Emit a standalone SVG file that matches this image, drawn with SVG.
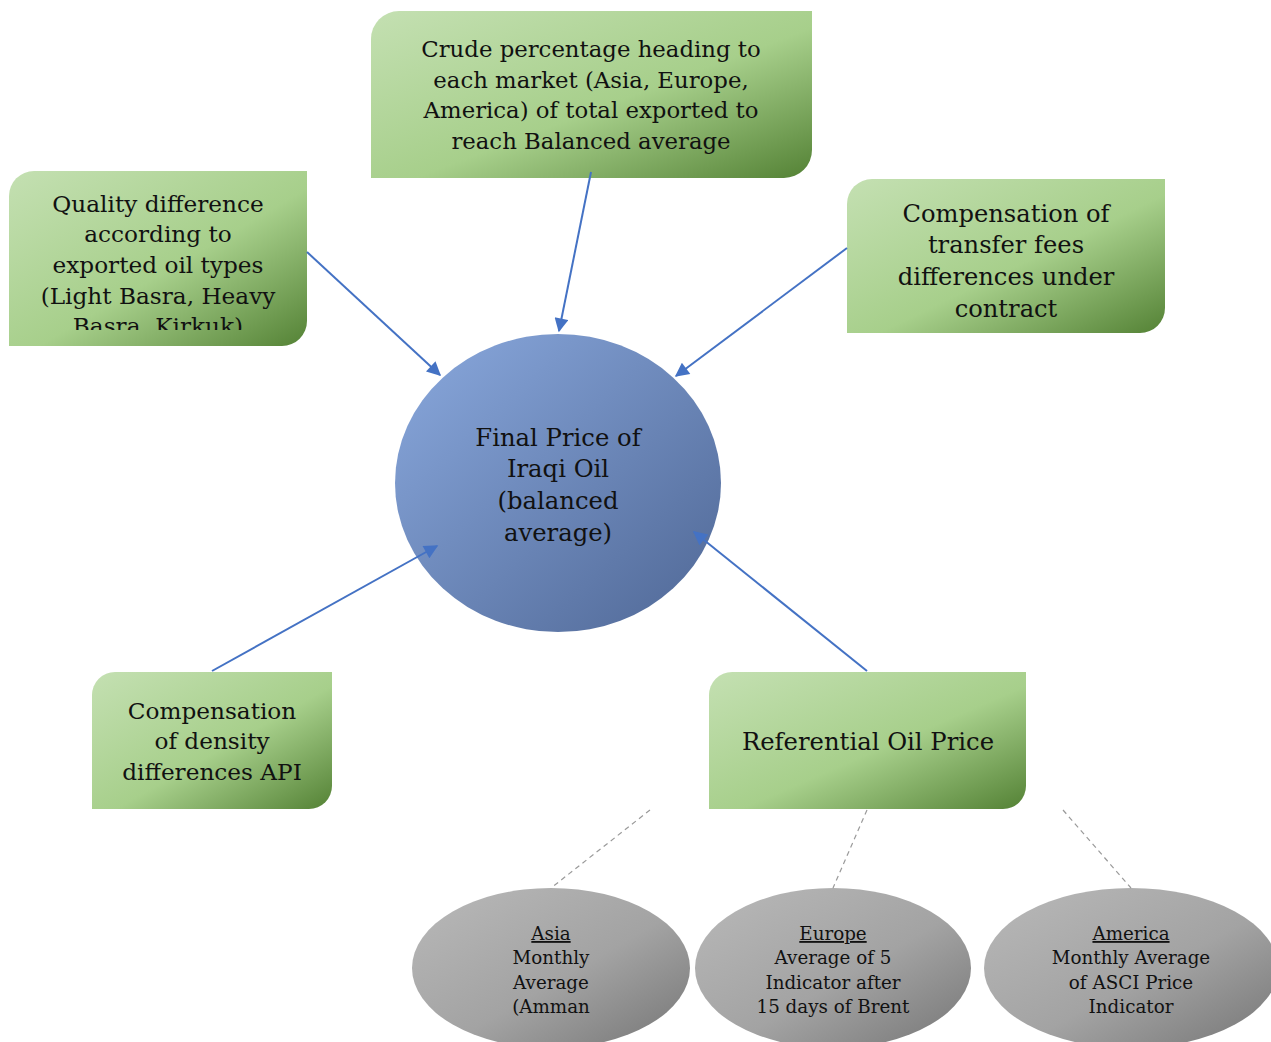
<svg xmlns="http://www.w3.org/2000/svg" width="1271" height="1042" viewBox="0 0 1271 1042">
<defs>
<linearGradient id="green" x1="0" y1="0" x2="1" y2="1">
<stop offset="0" stop-color="#c4e0b2"/>
<stop offset="0.55" stop-color="#a7cf8b"/>
<stop offset="1" stop-color="#548235"/>
</linearGradient>
<linearGradient id="blue" x1="0" y1="0" x2="1" y2="1">
<stop offset="0" stop-color="#8aa9de"/>
<stop offset="1" stop-color="#4f6795"/>
</linearGradient>
<linearGradient id="gray" x1="0" y1="0" x2="1" y2="1">
<stop offset="0" stop-color="#b9b9b9"/>
<stop offset="0.55" stop-color="#a3a3a3"/>
<stop offset="1" stop-color="#757575"/>
</linearGradient>
<marker id="arrow" viewBox="0 0 10 10" refX="9" refY="5" markerWidth="8" markerHeight="7" markerUnits="strokeWidth" orient="auto">
<path d="M0,0 L10,5 L0,10 z" fill="#4472c4"/>
</marker>
<clipPath id="clipLeft"><rect x="9" y="171" width="298" height="159"/></clipPath>
<style>
.box{fill:url(#green);}
.t{font-family:"DejaVu Serif","Liberation Serif",serif;font-size:23px;fill:#111;text-anchor:middle;}
.s{font-family:"DejaVu Serif","Liberation Serif",serif;font-size:18.3px;fill:#111;text-anchor:middle;}
.arr{stroke:#4472c4;stroke-width:2;fill:none;marker-end:url(#arrow);}
.dash{stroke:#9a9a9a;stroke-width:1.2;stroke-dasharray:5 4;fill:none;}
</style>
</defs>
<rect width="1271" height="1042" fill="#ffffff"/>

<g id="node-crude">
<path class="box" d="M399,11 H812 V150 A28,28 0 0 1 784,178 H371 V39 A28,28 0 0 1 399,11 Z"/>
<g class="t" style="font-size:22.8px">
<text class="t" x="591" y="57" style="font-size:22.8px">Crude percentage heading to</text>
<text class="t" x="591" y="88" style="font-size:22.8px">each market (Asia, Europe,</text>
<text class="t" x="591" y="118" style="font-size:22.8px">America) of total exported to</text>
<text class="t" x="591" y="149" style="font-size:22.8px">reach Balanced average</text>
</g>
</g>

<g id="node-quality">
<path class="box" d="M34,171 H307 V321 A25,25 0 0 1 282,346 H9 V196 A25,25 0 0 1 34,171 Z"/>
<g clip-path="url(#clipLeft)">
<text class="t" x="158" y="212" style="font-size:23.2px">Quality difference</text>
<text class="t" x="158" y="242" style="font-size:23.2px">according to</text>
<text class="t" x="158" y="273" style="font-size:23.2px">exported oil types</text>
<text class="t" x="158" y="304" style="font-size:23.2px">(Light Basra, Heavy</text>
<text class="t" x="158" y="334" style="font-size:23.2px">Basra, Kirkuk)</text>
</g>
</g>

<g id="node-transfer">
<path class="box" d="M872,179 H1165 V308 A25,25 0 0 1 1140,333 H847 V204 A25,25 0 0 1 872,179 Z"/>
<text class="t" x="1006" y="222" style="font-size:24.2px">Compensation of</text>
<text class="t" x="1006" y="253" style="font-size:24.2px">transfer fees</text>
<text class="t" x="1006" y="285" style="font-size:24.2px">differences under</text>
<text class="t" x="1006" y="317" style="font-size:24.2px">contract</text>
</g>

<g id="node-final">
<ellipse cx="558" cy="483" rx="163" ry="149" fill="url(#blue)"/>
<text class="t" x="558" y="446" style="font-size:24.3px">Final Price of</text>
<text class="t" x="558" y="477" style="font-size:24.3px">Iraqi Oil</text>
<text class="t" x="558" y="509" style="font-size:24.3px">(balanced</text>
<text class="t" x="558" y="541" style="font-size:24.3px">average)</text>
</g>

<g id="node-density">
<path class="box" d="M115,672 H332 V786 A23,23 0 0 1 309,809 H92 V695 A23,23 0 0 1 115,672 Z"/>
<text class="t" x="212" y="719" style="font-size:23.2px">Compensation</text>
<text class="t" x="212" y="749" style="font-size:23.2px">of density</text>
<text class="t" x="212" y="780" style="font-size:23.2px">differences API</text>
</g>

<g id="node-referential">
<path class="box" d="M732,672 H1026 V786 A23,23 0 0 1 1003,809 H709 V695 A23,23 0 0 1 732,672 Z"/>
<text class="t" x="868" y="750" style="font-size:24.3px">Referential Oil Price</text>
</g>

<g id="node-asia">
<ellipse cx="551" cy="968" rx="139" ry="80" fill="url(#gray)"/>
<text class="s" x="551" y="940" text-decoration="underline">Asia</text>
<text class="s" x="551" y="964">Monthly</text>
<text class="s" x="551" y="989">Average</text>
<text class="s" x="551" y="1013">(Amman</text>
</g>

<g id="node-europe">
<ellipse cx="833" cy="968" rx="138" ry="80" fill="url(#gray)"/>
<text class="s" x="833" y="940" text-decoration="underline">Europe</text>
<text class="s" x="833" y="964">Average of 5</text>
<text class="s" x="833" y="989">Indicator after</text>
<text class="s" x="833" y="1013">15 days of Brent</text>
</g>

<g id="node-america">
<ellipse cx="1131" cy="968" rx="147" ry="80" fill="url(#gray)"/>
<text class="s" x="1131" y="940" text-decoration="underline">America</text>
<text class="s" x="1131" y="964">Monthly Average</text>
<text class="s" x="1131" y="989">of ASCI Price</text>
<text class="s" x="1131" y="1013">Indicator</text>
</g>

<g id="connectors">
<line class="arr" x1="591" y1="172" x2="559" y2="331"/>
<line class="arr" x1="307" y1="252" x2="440" y2="375"/>
<line class="arr" x1="847" y1="248" x2="676" y2="376"/>
<line class="arr" x1="212" y1="671" x2="437" y2="546"/>
<line class="arr" x1="867" y1="671" x2="694" y2="532"/>
<line class="dash" x1="650" y1="810" x2="551" y2="888"/>
<line class="dash" x1="867" y1="810" x2="833" y2="888"/>
<line class="dash" x1="1063" y1="810" x2="1131" y2="888"/>
</g>
</svg>
